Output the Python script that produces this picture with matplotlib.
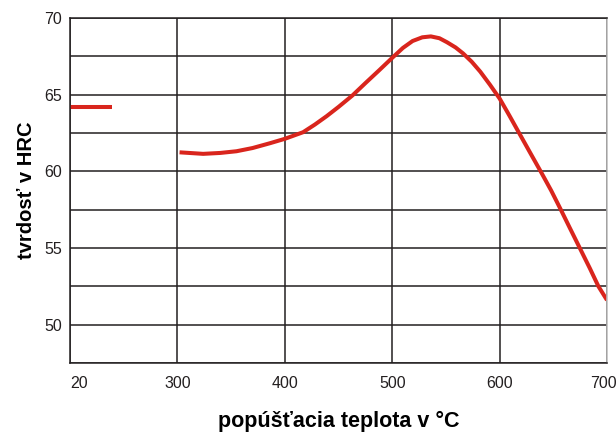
import matplotlib.pyplot as plt
import matplotlib.transforms as mtransforms
import numpy as np

plt.rcParams['font.family'] = ['Liberation Sans', 'DejaVu Sans']

# axis categories (20 °C sits at the first grid line, then 100 °C steps)
tick_temps = [20, 300, 400, 500, 600, 700]
y_ticks = [50, 55, 60, 65, 70]

# hardness after quenching (20 °C)
t_start = [20, 130]
hrc_start = [64.2, 64.2]

# hardness vs tempering temperature
t_temper = [302, 324, 340, 355, 370, 386, 400, 417, 428, 439, 450, 463, 475,
            488, 500, 510, 519, 528, 536, 544, 551, 559, 566, 574, 582, 591,
            600, 609, 618, 628, 639, 648, 657, 666, 675, 684, 692, 700]
hrc_temper = [61.24, 61.14, 61.2, 61.31, 61.52, 61.83, 62.12, 62.55, 63.05,
              63.6, 64.2, 64.95, 65.75, 66.6, 67.4, 68.05, 68.5, 68.74, 68.8,
              68.68, 68.42, 68.08, 67.69, 67.15, 66.5, 65.65, 64.75, 63.65,
              62.52, 61.27, 59.9, 58.75, 57.5, 56.22, 54.95, 53.68, 52.5, 51.6]


def pos(t):
    t = np.asarray(t, dtype=float)
    return np.where(t < 300, (t - 20) / 280.0, 1 + (t - 300) / 100.0)


fig = plt.figure(figsize=(6.16, 4.32), dpi=100)
ax = fig.add_axes([70/616, 1 - 363/432, 537/616, 345/432])

red = '#d9251d'
ax.plot(pos(t_start), hrc_start, color=red, lw=2.9, solid_capstyle='butt')
ax.plot(pos(t_temper), hrc_temper, color=red, lw=2.9,
        solid_capstyle='butt', solid_joinstyle='round')

ax.set_xlim(0, 5)
ax.set_ylim(47.5, 70)
ax.set_xticks(pos(tick_temps))
ax.set_xticklabels([str(t) for t in tick_temps])
grid_y = np.arange(47.5, 70.1, 2.5)
ax.set_yticks(grid_y)
ax.set_yticklabels(['' if v not in y_ticks else str(int(v)) for v in grid_y])
ax.tick_params(length=0, labelsize=11.5, colors='#231f20')
ax.tick_params(axis='x', pad=9)
ax.tick_params(axis='y', pad=6)
xl = ax.get_xticklabels()
xl[0].set_horizontalalignment('left')
xl[-1].set_transform(xl[-1].get_transform() +
                     mtransforms.ScaledTranslation(-4/100, 0, fig.dpi_scale_trans))

ax.grid(True, color='#231f20', lw=1.1)
for s in ax.spines.values():
    s.set_color('#231f20')
    s.set_linewidth(1.1)
ax.spines['right'].set_color('#bbbbbb')

ax.set_ylabel('tvrdosť v HRC', fontsize=14.5, fontweight='bold', labelpad=6)
ax.set_xlabel('popúšťacia teplota v °C', fontsize=15.5, fontweight='bold', labelpad=15)

plt.savefig('out.png', dpi=100)
